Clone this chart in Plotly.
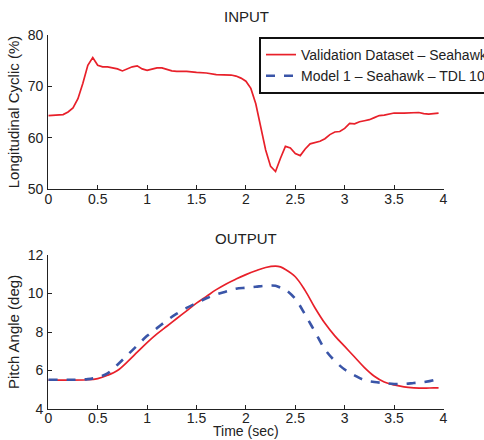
import plotly.graph_objects as go

# INPUT: longitudinal cyclic (%)
t_in = [0, 0.05, 0.1, 0.15, 0.2, 0.25, 0.3, 0.35, 0.4, 0.45, 0.5, 0.55, 0.6, 0.65, 0.7, 0.75,
        0.8, 0.85, 0.9, 0.95, 1.0, 1.05, 1.1, 1.15, 1.2, 1.25, 1.3, 1.4, 1.5, 1.6, 1.7, 1.8,
        1.85, 1.9, 1.95, 2.0, 2.05, 2.1, 2.15, 2.2, 2.25, 2.3, 2.35, 2.4, 2.45, 2.5, 2.55,
        2.6, 2.65, 2.7, 2.75, 2.8, 2.85, 2.9, 2.95, 3.0, 3.05, 3.1, 3.15, 3.2, 3.25, 3.3,
        3.35, 3.4, 3.45, 3.5, 3.6, 3.7, 3.75, 3.8, 3.85, 3.9, 3.95]
cyclic = [64.3, 64.4, 64.5, 64.5, 65.0, 65.8, 67.6, 70.6, 74.1, 75.6, 74.1, 73.8, 73.8, 73.6,
          73.4, 73.0, 73.4, 73.8, 74.0, 73.4, 73.1, 73.4, 73.6, 73.6, 73.3, 73.0, 72.9, 72.9,
          72.7, 72.6, 72.3, 72.3, 72.2, 72.0, 71.6, 71.0, 69.6, 66.6, 62.1, 57.6, 54.4, 53.4,
          56.0, 58.3, 58.0, 56.9, 56.5, 57.8, 58.8, 59.1, 59.3, 59.8, 60.6, 61.1, 61.2, 61.8,
          62.8, 62.7, 63.1, 63.3, 63.5, 63.9, 64.3, 64.4, 64.6, 64.8, 64.8, 64.9, 64.9, 64.7,
          64.6, 64.7, 64.8]

# OUTPUT: pitch angle (deg)
t_out = [0, 0.4, 0.5, 0.6, 0.7, 0.8, 0.9, 1.0, 1.1, 1.2, 1.3, 1.4, 1.5, 1.6, 1.7, 1.8, 1.9,
         2.0, 2.1, 2.2, 2.3, 2.35, 2.4, 2.5, 2.6, 2.7, 2.8, 2.9, 3.0, 3.1, 3.2, 3.3, 3.4,
         3.5, 3.6, 3.7, 3.8, 3.9, 3.95]
pitch_val = [5.5, 5.52, 5.58, 5.75, 6.0, 6.45, 6.95, 7.45, 7.9, 8.3, 8.7, 9.1, 9.5, 9.85,
             10.2, 10.5, 10.75, 10.98, 11.18, 11.35, 11.42, 11.38, 11.25, 10.87, 10.15,
             9.25, 8.45, 7.8, 7.25, 6.7, 6.15, 5.7, 5.4, 5.25, 5.15, 5.1, 5.08, 5.1, 5.1]
pitch_model = [5.52, 5.55, 5.65, 5.85, 6.3, 6.8, 7.3, 7.8, 8.2, 8.6, 8.95, 9.25, 9.5, 9.75,
               9.95, 10.1, 10.25, 10.3, 10.35, 10.4, 10.4, 10.3, 10.2, 9.72, 8.9, 8.0, 7.1,
               6.5, 6.05, 5.75, 5.5, 5.4, 5.35, 5.3, 5.3, 5.35, 5.4, 5.5, 5.6]

x_ticks = [0, 0.5, 1, 1.5, 2, 2.5, 3, 3.5, 4]
x_tick_labels = ["0", "0.5", "1", "1.5", "2", "2.5", "3", "3.5", "4"]

RED = "#e8202a"
BLUE = "#3a55a8"
FONT = "Liberation Sans, Arial, sans-serif"
TXT = "#222"

fig = go.Figure()
fig.add_trace(go.Scatter(x=t_in, y=cyclic, mode="lines", line=dict(color=RED, width=1.7),
                         name="Validation Dataset – Seahawk", xaxis="x", yaxis="y"))
fig.add_trace(go.Scatter(x=[None], y=[None], mode="lines",
                         line=dict(color=BLUE, width=2.6, dash="dash"),
                         name="Model 1 – Seahawk – TDL 10", xaxis="x", yaxis="y"))
fig.add_trace(go.Scatter(x=t_out, y=pitch_val, mode="lines", line=dict(color=RED, width=1.7, shape="spline"),
                         showlegend=False, xaxis="x2", yaxis="y2"))
fig.add_trace(go.Scatter(x=t_out, y=pitch_model, mode="lines",
                         line=dict(color=BLUE, width=2.6, dash="dash", shape="spline"),
                         showlegend=False, xaxis="x2", yaxis="y2"))

xd = [48.3 / 484, 443.5 / 484]
axis_common = dict(showline=True, linecolor=TXT, linewidth=1.3, ticks="inside", ticklen=4,
                   tickcolor=TXT, tickwidth=1.3, showgrid=False, zeroline=False,
                   tickfont=dict(family=FONT, size=14, color=TXT), mirror=False)
title_font = dict(family=FONT, size=15, color=TXT)

fig.update_layout(
    width=484, height=440, margin=dict(l=0, r=0, t=0, b=0, autoexpand=False),
    paper_bgcolor="white", plot_bgcolor="white",
    font=dict(family=FONT, size=14, color=TXT),
    xaxis=dict(domain=xd, range=[0, 4], tickvals=x_ticks, ticktext=x_tick_labels,
               anchor="y", ticklabelstandoff=-3, **axis_common),
    yaxis=dict(domain=[1 - 189 / 440, 1 - 35 / 440], range=[50, 80], tickvals=[50, 60, 70, 80],
               anchor="x", ticklabelstandoff=1,
               title=dict(text="Longitudinal Cyclic (%)", standoff=4, font=title_font),
               **axis_common),
    xaxis2=dict(domain=xd, range=[0, 4], tickvals=x_ticks, ticktext=x_tick_labels,
                anchor="y2", ticklabelstandoff=-4, **axis_common),
    yaxis2=dict(domain=[1 - 409 / 440, 1 - 255 / 440], range=[4, 12], tickvals=[4, 6, 8, 10, 12],
                anchor="x2", ticklabelstandoff=1,
                title=dict(text="Pitch Angle (deg)", standoff=4, font=title_font),
                **axis_common),
    legend=dict(x=259 / 484, y=1 - 37 / 440, xanchor="left", yanchor="top",
                bordercolor="#111", borderwidth=2, bgcolor="white",
                font=dict(family=FONT, size=14, color=TXT), tracegroupgap=0,
                itemwidth=30),
    showlegend=True,
    annotations=[
        dict(text="INPUT", x=246 / 484, y=1 - 17 / 440, xref="paper", yref="paper",
             xanchor="center", yanchor="middle", showarrow=False, font=title_font),
        dict(text="OUTPUT", x=246 / 484, y=1 - 238 / 440, xref="paper", yref="paper",
             xanchor="center", yanchor="middle", showarrow=False, font=title_font),
        dict(text="Time (sec)", x=246 / 484, y=0, xref="paper", yref="paper",
             xanchor="center", yanchor="bottom", borderpad=0, showarrow=False,
             font=dict(family=FONT, size=14, color=TXT)),
    ],
)

fig.write_html("out.html")
